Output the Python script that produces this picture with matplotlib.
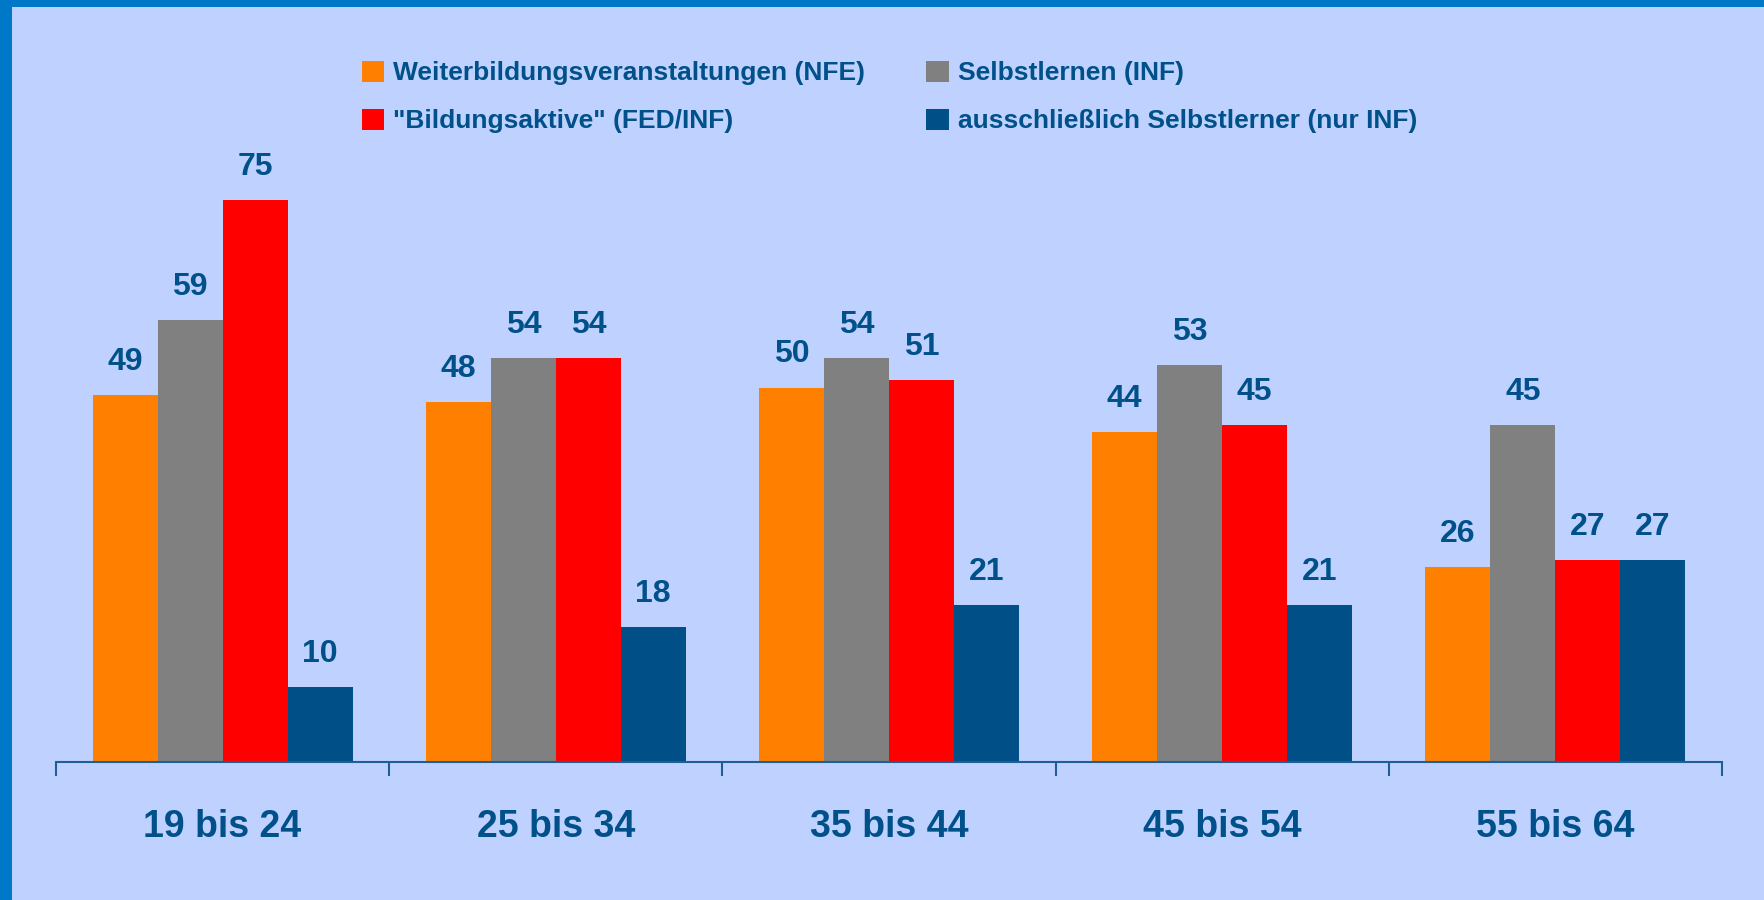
import numpy as np
import matplotlib.pyplot as plt
from matplotlib.patches import Rectangle

# Daten
gruppen = ['19 bis 24', '25 bis 34', '35 bis 44', '45 bis 54', '55 bis 64']
serien = ['Weiterbildungsveranstaltungen (NFE)', 'Selbstlernen (INF)',
          '"Bildungsaktive" (FED/INF)', 'ausschließlich Selbstlerner (nur INF)']
nfe = [49, 48, 50, 44, 26]
inf = [59, 54, 54, 53, 45]
aktiv = [75, 54, 51, 45, 27]
nur_inf = [10, 18, 21, 21, 27]

farben = ['#FF7F00', '#808080', '#FF0000', '#004F87']
textfarbe = '#00508A'
hintergrund = '#BFD2FF'
rand = '#0078C8'

plt.rcParams['font.family'] = ['Liberation Sans', 'DejaVu Sans']

W, H = 1765, 900
fig = plt.figure(figsize=(W / 100, H / 100), dpi=100)
fig.patch.set_facecolor(hintergrund)

# blauer Rand oben und links
fig.add_artist(Rectangle((0, 1 - 7 / H), 1, 7 / H, transform=fig.transFigure,
                         color=rand, lw=0, zorder=0))
fig.add_artist(Rectangle((0, 0), 12 / W, 1, transform=fig.transFigure,
                         color=rand, lw=0, zorder=0))

x0, x1 = 56, 1722
y_achse = 762
ax = fig.add_axes([x0 / W, (H - y_achse) / H, (x1 - x0) / W, y_achse / H])
ax.set_facecolor('none')

px_pro_einheit = 7.49
ax.set_ylim(0, y_achse / px_pro_einheit)
ax.set_xlim(0, len(gruppen))

x = np.arange(len(gruppen)) + 0.5
breite = 0.195
werte = [nfe, inf, aktiv, nur_inf]
balken = []
for i, (name, w, f) in enumerate(zip(serien, werte, farben)):
    pos = x + (i - 1.5) * breite
    b = ax.bar(pos, w, breite, color=f, label=name, zorder=2)
    balken.append(b)
    for xp, v in zip(pos, w):
        ax.annotate(str(v), (xp, v), xytext=(0, 18), textcoords='offset points',
                    ha='center', va='baseline', fontsize=23, fontweight='bold',
                    color=textfarbe)

for s in ['top', 'right', 'left']:
    ax.spines[s].set_visible(False)
ax.spines['bottom'].set_color('#1F5F95')
ax.spines['bottom'].set_linewidth(1.5)
ax.set_yticks([])
ax.set_xticks(np.arange(len(gruppen) + 1))
ax.set_xticklabels([])
ax.tick_params(axis='x', direction='out', length=10, width=1.5, color='#1F5F95')
ax.set_xticks(x, minor=True)
ax.set_xticklabels(gruppen, minor=True, fontsize=27, fontweight='bold', color=textfarbe)
ax.tick_params(axis='x', which='minor', length=0, pad=34)

# Legende: Zeile 1 NFE / INF, Zeile 2 Bildungsaktive / nur INF
reihenfolge = [0, 2, 1, 3]
leg = fig.legend([balken[i] for i in reihenfolge], [serien[i] for i in reihenfolge],
                 loc='upper left', bbox_to_anchor=(338 / W, 1 - 37 / H), ncol=2,
                 frameon=False, handlelength=0.85, handleheight=0.85,
                 handletextpad=0.35, columnspacing=2.3, labelspacing=0.88,
                 prop={'weight': 'bold', 'size': 19})
for t in leg.get_texts():
    t.set_color(textfarbe)

fig.savefig('out.png', dpi=100, facecolor=hintergrund)
